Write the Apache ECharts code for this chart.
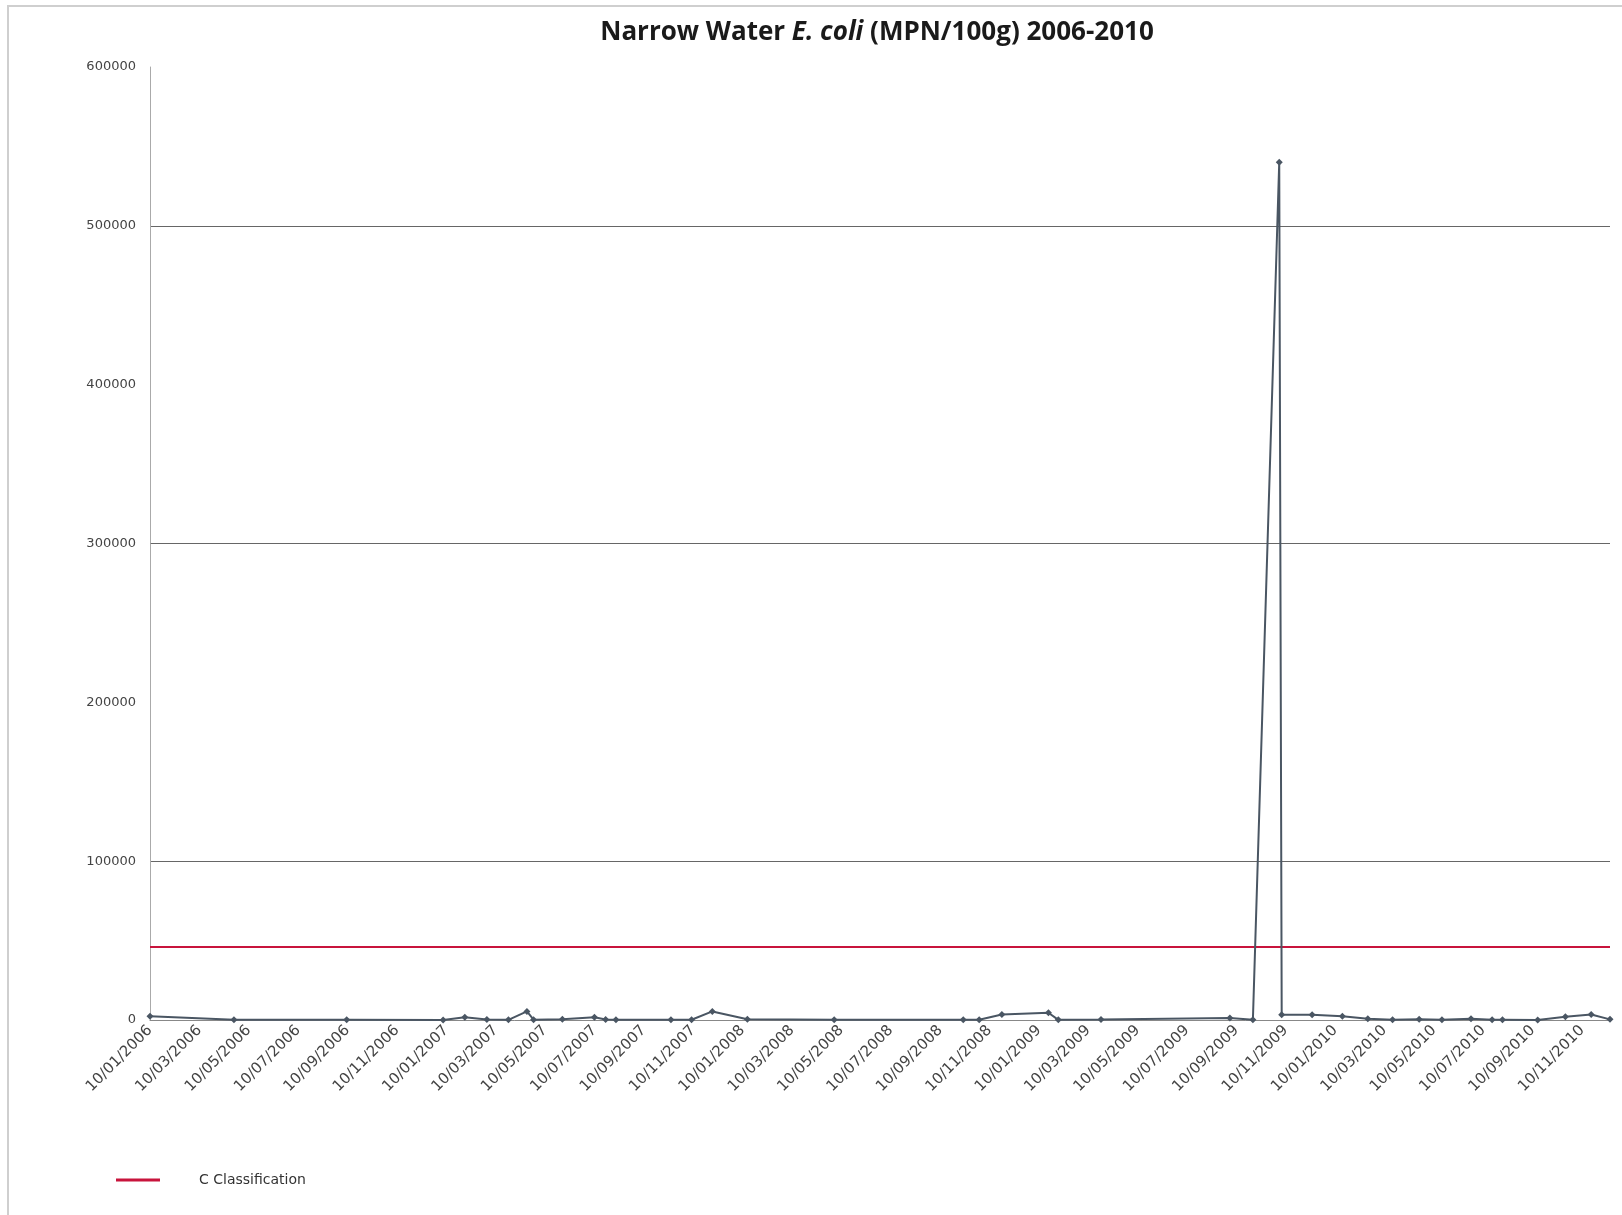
<!DOCTYPE html>
<html>
<head>
<meta charset="utf-8">
<script src="https://cdn.jsdelivr.net/npm/echarts@6/dist/echarts.min.js"></script>
<style>
html,body{margin:0;padding:0;background:#fff;}
#chart{width:1622px;height:1215px;}
</style>
</head>
<body>
<div id="chart"></div>
<script>
// ---- data ----
const sampleDates = ['2006-01-10','2006-04-22','2006-09-09','2007-01-06','2007-02-03','2007-02-28','2007-03-26','2007-04-18','2007-04-26','2007-06-01','2007-07-10','2007-07-24','2007-08-06','2007-10-13','2007-11-08','2007-12-03','2008-01-16','2008-05-01','2008-10-08','2008-10-28','2008-11-25','2009-01-22','2009-02-04','2009-03-26','2009-09-02','2009-09-30','2009-11-02','2009-11-05','2009-12-12','2010-01-19','2010-02-19','2010-03-20','2010-04-22','2010-05-20','2010-06-25','2010-07-21','2010-08-03','2010-09-16','2010-10-20','2010-11-21','2010-12-14'];
const ecoliValues = [2400,230,200,50,1700,330,130,5400,200,500,1700,330,200,200,130,5400,500,110,200,200,3500,4600,110,330,1300,200,540000,3300,3300,2400,790,200,490,200,790,200,200,50,2100,3500,400];
const xTickLabels = ['10/01/2006','10/03/2006','10/05/2006','10/07/2006','10/09/2006','10/11/2006',
  '10/01/2007','10/03/2007','10/05/2007','10/07/2007','10/09/2007','10/11/2007',
  '10/01/2008','10/03/2008','10/05/2008','10/07/2008','10/09/2008','10/11/2008',
  '10/01/2009','10/03/2009','10/05/2009','10/07/2009','10/09/2009','10/11/2009',
  '10/01/2010','10/03/2010','10/05/2010','10/07/2010','10/09/2010','10/11/2010'];
const cClassificationLevel = 46000;
const yMin = 0, yMax = 600000, yStep = 100000;

// months since 10/01/2006 (fractional)
function monthIndex(s){
  const p = s.split('-').map(Number);
  const dim = new Date(p[0], p[1], 0).getDate();
  return (p[0]-2006)*12 + (p[1]-1) + (p[2]-10)/dim;
}
const xs = sampleDates.map(monthIndex);
const xStart = 0;
const xEnd = xs[xs.length-1];
const ecoliData = xs.map((x,i)=>[x, ecoliValues[i]]);
const cData = [[xStart, cClassificationLevel],[xEnd, cClassificationLevel]];

const chart = echarts.init(document.getElementById('chart'));
chart.setOption({
  backgroundColor:'#ffffff',
  animation:false,
  title:{
    text:'{n|Narrow Water }{i|E. coli}{n| (MPN/100g) 2006-2010}',
    left:872, top:15, textAlign:'center',
    textStyle:{
      rich:{
        n:{fontFamily:'Open Sans', fontWeight:'bold', fontSize:26, color:'#1a1a1a'},
        i:{fontFamily:'Open Sans', fontWeight:'bold', fontStyle:'italic', fontSize:26, color:'#1a1a1a'}
      }
    }
  },
  graphic:[{
    type:'rect', shape:{x:8, y:6, width:1700, height:1300},
    style:{fill:'none', stroke:'#cfcfcf', lineWidth:2}, silent:true, z:-1
  }],
  legend:{
    data:[{name:'C Classification', icon:'rect'}],
    left:111, top:1168,
    itemWidth:44, itemHeight:3,
    textStyle:{fontFamily:'DejaVu Sans', fontSize:14, color:'#333', padding:[0,0,0,34]}
  },
  grid:{left:150, right:12, top:67, bottom:195, containLabel:false},
  xAxis:{
    type:'value', min:xStart, max:xEnd, interval:2,
    axisLine:{show:true, lineStyle:{color:'#888', width:1}},
    axisTick:{show:false},
    splitLine:{show:false},
    axisLabel:{
      rotate:45, margin:8, showMaxLabel:false,
      fontFamily:'DejaVu Sans', fontSize:15, color:'#444',
      formatter:function(v){
        const k = v/2;
        if (Math.abs(k-Math.round(k))>1e-6) return '';
        return xTickLabels[Math.round(k)] || '';
      }
    }
  },
  yAxis:{
    type:'value', min:yMin, max:yMax, interval:yStep,
    axisLine:{show:true, lineStyle:{color:'#aaa', width:1}},
    axisTick:{show:false},
    splitLine:{show:true, lineStyle:{color:['rgba(0,0,0,0)','#666'], width:1}},
    axisLabel:{margin:14, fontFamily:'DejaVu Sans', fontSize:13, color:'#444',
      formatter:function(v){ return String(v); }}
  },
  series:[
    {
      name:'E. coli', type:'line', data:ecoliData,
      symbol:'diamond', symbolSize:7, showSymbol:true,
      lineStyle:{color:'#4a5663', width:2},
      itemStyle:{color:'#4a5663'},
      z:3
    },
    {
      name:'C Classification', type:'line', data:cData,
      symbol:'none',
      lineStyle:{color:'#c8143c', width:2},
      itemStyle:{color:'#c8143c'},
      z:2
    }
  ]
});
</script>
</body>
</html>
